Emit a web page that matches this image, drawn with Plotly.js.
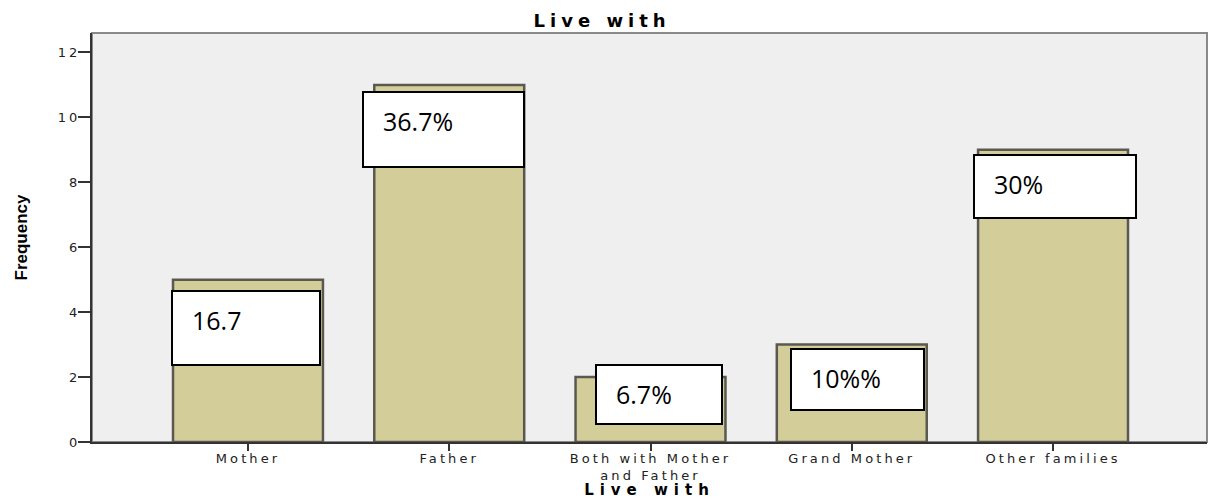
<!DOCTYPE html>
<html>
<head>
<meta charset="utf-8">
<script src="https://cdn.plot.ly/plotly-3.0.1.min.js"></script>
<style>
  html, body { margin: 0; padding: 0; background: #ffffff; }
  #chart { width: 1209px; height: 499px; }
</style>
</head>
<body>
<div id="chart"></div>
<script>
// Who the respondents live with
const categories = ["Mother", "Father", "Both with Mother<br>and Father", "Grand Mother", "Other families"];
const frequency = [5, 11, 2, 3, 9];
const boxLabels = ["16.7", "36.7%", "6.7%", "10%%", "30%"];
const yTicks = [0, 2, 4, 6, 8, 10, 12];

// Callout box placement relative to each bar top (pixels; dy > 0 means below the top)
const boxStyle = [
  { dx: -77, dy: 10,  w: 148, h: 74 },
  { dx: -87, dy: 6,   w: 161, h: 75 },
  { dx: -56, dy: -13, w: 126, h: 59 },
  { dx: -62, dy: 3,   w: 133, h: 61 },
  { dx: -80, dy: 4,   w: 162, h: 63 }
];

// wide, letter-spaced lettering for axis text
const spaced = (t, px) => t.split("<br>")
  .map(s => `<span style="letter-spacing:${px}px">${s}</span>`).join("<br>");

const tickFont = { family: "DejaVu Sans, sans-serif", size: 13, color: "#222222" };

const annotations = [];
categories.forEach((c, i) => {
  const s = boxStyle[i];
  // white callout box
  annotations.push({
    x: c, y: frequency[i], xref: "x", yref: "y",
    xanchor: "left", yanchor: "top",
    xshift: s.dx, yshift: -s.dy,
    text: " ", showarrow: false,
    width: s.w - 2, height: s.h - 2,
    bgcolor: "#ffffff", bordercolor: "#000000", borderwidth: 2, borderpad: 0
  });
  // label inside the box
  annotations.push({
    x: c, y: frequency[i], xref: "x", yref: "y",
    xanchor: "left", yanchor: "top",
    xshift: s.dx + 19, yshift: -s.dy - 11,
    text: boxLabels[i], showarrow: false,
    font: { family: "Open Sans, sans-serif", size: 25, color: "#000000" }
  });
});

const trace = {
  type: "bar",
  x: categories,
  y: frequency,
  width: 0.745,
  marker: { color: "#d3cd99", line: { color: "#5a5950", width: 2.5 } },
  hoverinfo: "skip"
};

const layout = {
  width: 1209, height: 499,
  margin: { l: 92, r: 2, t: 33, b: 57 },
  paper_bgcolor: "#ffffff",
  plot_bgcolor: "#efefef",
  showlegend: false,
  title: {
    text: "<b>" + spaced("Live with", 5) + "</b>",
    xref: "container", yref: "container",
    x: 0.498, xanchor: "center", y: 0.958, yanchor: "middle",
    font: { family: "DejaVu Sans, sans-serif", size: 18, color: "#000000" }
  },
  xaxis: {
    type: "category",
    range: [-0.775, 4.765],
    tickvals: categories,
    ticktext: categories.map(c => spaced(c, 3.1)),
    showline: true, linecolor: "#333333", linewidth: 2,
    ticks: "outside", ticklen: 7, tickcolor: "#333333", tickwidth: 2,
    ticklabelstandoff: -4,
    tickfont: tickFont,
    showgrid: false, zeroline: false,
    title: {
      text: "<b>" + spaced("Live with", 6) + "</b>", standoff: 5,
      font: { family: "DejaVu Sans, sans-serif", size: 15, color: "#000000" }
    }
  },
  yaxis: {
    range: [0, 12.6],
    tickvals: yTicks,
    ticktext: yTicks.map(v => spaced(String(v), 3.1)),
    showline: true, linecolor: "#333333", linewidth: 2,
    ticks: "outside", ticklen: 12, tickcolor: "#333333", tickwidth: 2,
    ticklabelstandoff: -5,
    tickfont: tickFont,
    showgrid: false, zeroline: false,
    title: {
      text: "<b>Frequency</b>", standoff: 26,
      font: { family: "Liberation Sans, sans-serif", size: 17, color: "#000000" }
    }
  },
  shapes: [{
    type: "rect", xref: "paper", yref: "paper",
    x0: 0, x1: 1, y0: 0, y1: 1,
    line: { color: "#8a8a8a", width: 2 }, layer: "below"
  }],
  annotations: annotations
};

Plotly.newPlot("chart", [trace], layout, { displayModeBar: false, staticPlot: true });
</script>
</body>
</html>
